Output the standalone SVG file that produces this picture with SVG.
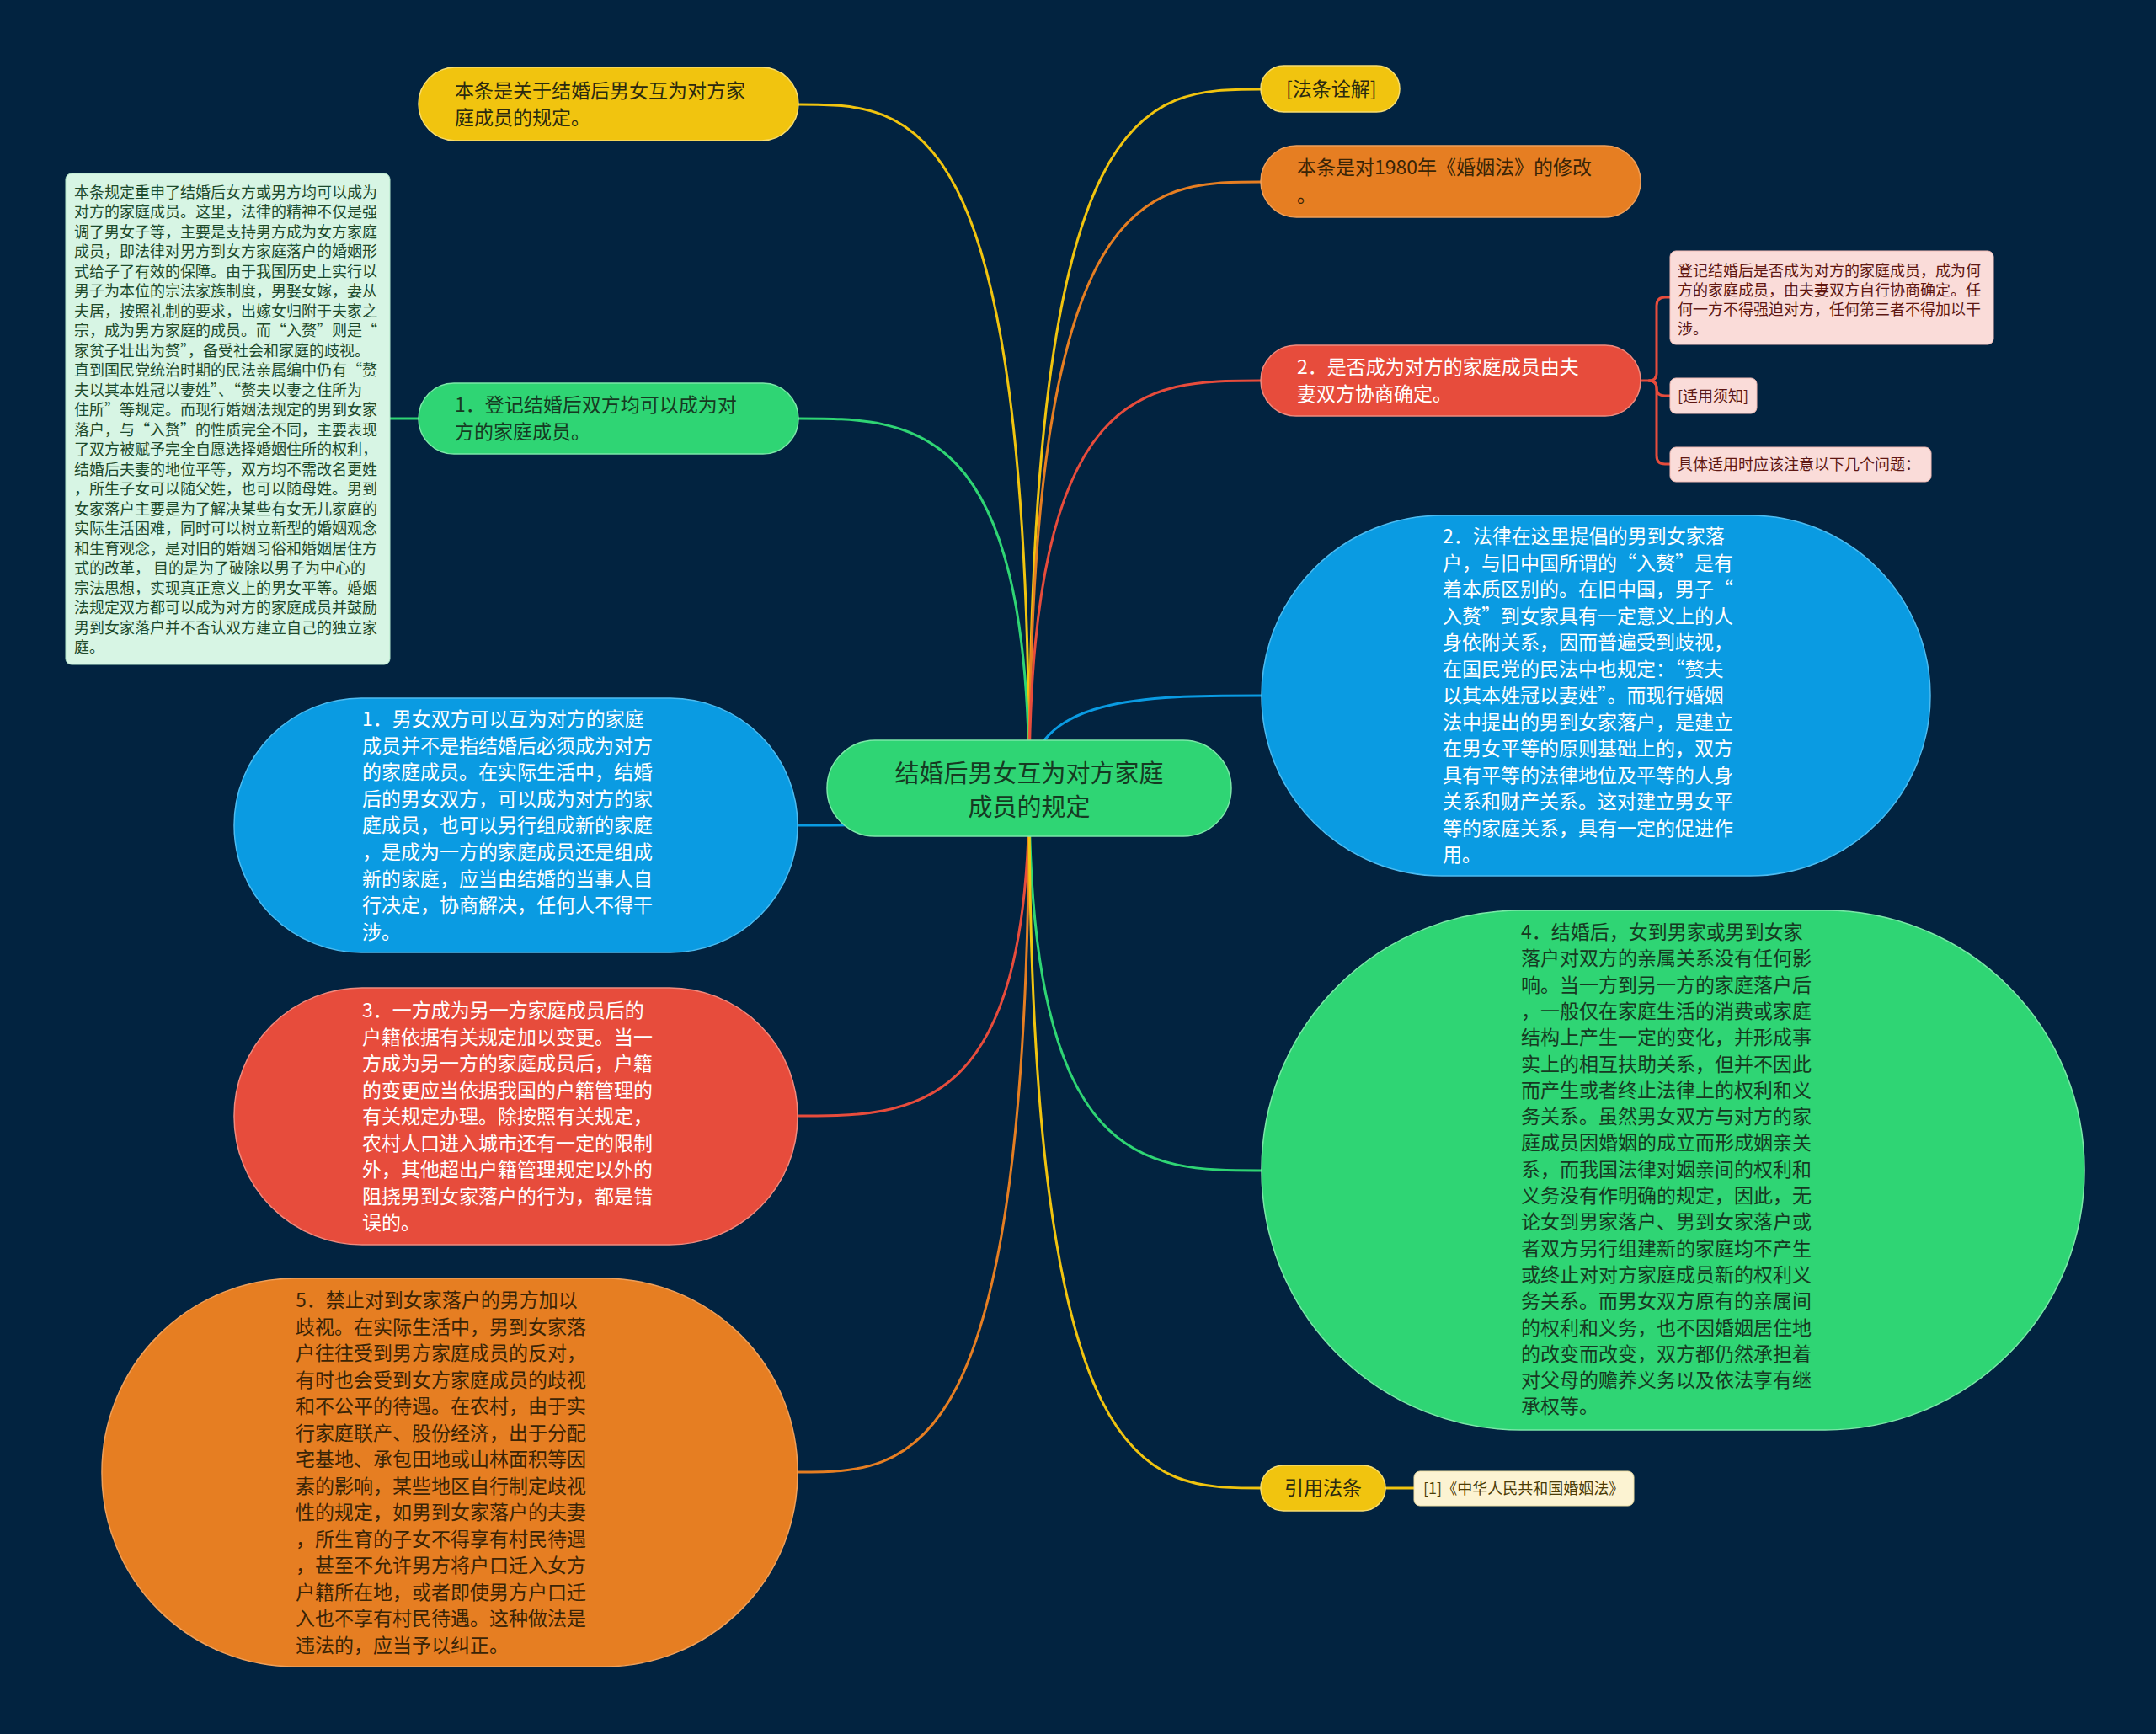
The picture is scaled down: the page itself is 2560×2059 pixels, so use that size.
<svg xmlns="http://www.w3.org/2000/svg" width="2560" height="2059" viewBox="0 0 2560 2059">
<style>
text{font-family:"Noto Sans CJK SC","Noto Sans",sans-serif;}
.t23{font-size:23px;}
.t18{font-size:18px;}
.t31{font-size:29px;}
.dk{fill:#2b2a10;}
.wh{fill:#ffffff;}
.gd{fill:#163a22;}
.od{fill:#3a2406;}
.con{fill:none;stroke-width:3;stroke-linecap:round;}
.y{stroke:#f1c40f;} .o{stroke:#e67e22;} .r{stroke:#e74c3c;} .b{stroke:#0a9be2;} .g{stroke:#2fd574;}
.ny{fill:#f1c40f;stroke:#f7dc6f;stroke-width:1.5;}
.no{fill:#e67e22;stroke:#f0a05a;stroke-width:1.5;}
.nr{fill:#e74c3c;stroke:#f08a7e;stroke-width:1.5;}
.nb{fill:#0a9be2;stroke:#4dbbf0;stroke-width:1.5;}
.ng{fill:#2fd574;stroke:#7be8a8;stroke-width:1.5;}
</style>
<rect x="0" y="0" width="2560" height="2059" fill="#022340"/>

<g id="connectors">
<path class="con y" d="M1222,936 C1222,124 1085,124 948,124"/>
<path class="con g" d="M1222,936 C1222,497 1085,497 948,497"/>
<path class="con b" d="M1222,936 C1222,980 1085,980 947,980"/>
<path class="con r" d="M1222,936 C1222,1325 1085,1325 947,1325"/>
<path class="con o" d="M1222,936 C1222,1748 1085,1748 947,1748"/>
<path class="con y" d="M1222,936 C1222,106 1360,106 1497,106"/>
<path class="con o" d="M1222,936 C1222,216 1360,216 1497,216"/>
<path class="con r" d="M1222,936 C1222,452 1360,452 1497,452"/>
<path class="con b" d="M1222,936 C1222,826 1360,826 1498,826"/>
<path class="con g" d="M1222,936 C1222,1390 1360,1390 1498,1390"/>
<path class="con y" d="M1222,936 C1222,1767 1360,1767 1497,1767"/>
<path class="con g" d="M497,497 L463,497"/>
<path class="con y" d="M1645,1767 L1679,1767"/>
<path class="con r" d="M1948,452 L1958,452 Q1967,452 1967,443 L1967,363 Q1967,353 1977,353 L1983,353"/>
<path class="con r" d="M1958,452 Q1967,452 1967,461 Q1967,470 1977,470 L1983,470"/>
<path class="con r" d="M1958,452 Q1967,452 1967,461 L1967,541 Q1967,551 1977,551 L1983,551"/>
</g>

<g id="center">
<rect x="982" y="879" width="480" height="114" rx="57" class="ng"/>
<text class="t31 gd" text-anchor="middle" x="1222" y="929">结婚后男女互为对方家庭</text>
<text class="t31 gd" text-anchor="middle" x="1222" y="969">成员的规定</text>
</g>

<g id="n-intro">
<rect x="497" y="80" width="451" height="87" rx="43.5" class="ny"/>
<text class="t23 dk"><tspan x="540" y="116">本条是关于结婚后男女互为对方家</tspan><tspan x="540" y="148">庭成员的规定。</tspan></text>
</g>

<g id="n-1reg">
<rect x="497" y="455" width="451" height="84" rx="42" class="ng"/>
<text class="t23 gd"><tspan x="540" y="489">1．登记结婚后双方均可以成为对</tspan><tspan x="540" y="521">方的家庭成员。</tspan></text>
</g>

<g id="note-mint">
<rect x="78" y="206" width="385" height="583" rx="7" fill="#d7f5e4" stroke="#b5e8cb" stroke-width="1"/>
<text class="t18" fill="#1d4a2c">
<tspan x="88" y="234.5">本条规定重申了结婚后女方或男方均可以成为</tspan>
<tspan x="88" y="258">对方的家庭成员。这里，法律的精神不仅是强</tspan>
<tspan x="88" y="281.5">调了男女子等，主要是支持男方成为女方家庭</tspan>
<tspan x="88" y="305">成员，即法律对男方到女方家庭落户的婚姻形</tspan>
<tspan x="88" y="328.5">式给子了有效的保障。由于我国历史上实行以</tspan>
<tspan x="88" y="352">男子为本位的宗法家族制度，男娶女嫁，妻从</tspan>
<tspan x="88" y="375.5">夫居，按照礼制的要求，出嫁女归附于夫家之</tspan>
<tspan x="88" y="399">宗，成为男方家庭的成员。而“入赘”则是“</tspan>
<tspan x="88" y="422.5">家贫子壮出为赘”，备受社会和家庭的歧视。</tspan>
<tspan x="88" y="446">直到国民党统治时期的民法亲属编中仍有“赘</tspan>
<tspan x="88" y="469.5">夫以其本姓冠以妻姓”、“赘夫以妻之住所为</tspan>
<tspan x="88" y="493">住所”等规定。而现行婚姻法规定的男到女家</tspan>
<tspan x="88" y="516.5">落户，与“入赘”的性质完全不同，主要表现</tspan>
<tspan x="88" y="540">了双方被赋予完全自愿选择婚姻住所的权利，</tspan>
<tspan x="88" y="563.5">结婚后夫妻的地位平等，双方均不需改名更姓</tspan>
<tspan x="88" y="587">，所生子女可以随父姓，也可以随母姓。男到</tspan>
<tspan x="88" y="610.5">女家落户主要是为了解决某些有女无儿家庭的</tspan>
<tspan x="88" y="634">实际生活困难，同时可以树立新型的婚姻观念</tspan>
<tspan x="88" y="657.5">和生育观念，是对旧的婚姻习俗和婚姻居住方</tspan>
<tspan x="88" y="681">式的改革， 目的是为了破除以男子为中心的</tspan>
<tspan x="88" y="704.5">宗法思想，实现真正意义上的男女平等。婚姻</tspan>
<tspan x="88" y="728">法规定双方都可以成为对方的家庭成员并鼓励</tspan>
<tspan x="88" y="751.5">男到女家落户并不否认双方建立自己的独立家</tspan>
<tspan x="88" y="775">庭。</tspan>
</text>
</g>

<g id="n-blue-left">
<rect x="278" y="829" width="669" height="302" rx="151" class="nb"/>
<text class="t23 wh">
<tspan x="430" y="862">1．男女双方可以互为对方的家庭</tspan>
<tspan x="430" y="893.6">成员并不是指结婚后必须成为对方</tspan>
<tspan x="430" y="925.2">的家庭成员。在实际生活中，结婚</tspan>
<tspan x="430" y="956.8">后的男女双方，可以成为对方的家</tspan>
<tspan x="430" y="988.4">庭成员，也可以另行组成新的家庭</tspan>
<tspan x="430" y="1020">，是成为一方的家庭成员还是组成</tspan>
<tspan x="430" y="1051.6">新的家庭，应当由结婚的当事人自</tspan>
<tspan x="430" y="1083.2">行决定，协商解决，任何人不得干</tspan>
<tspan x="430" y="1114.8">涉。</tspan>
</text>
</g>

<g id="n-red-left">
<rect x="278" y="1173" width="669" height="305" rx="152" class="nr"/>
<text class="t23 wh">
<tspan x="430" y="1208">3．一方成为另一方家庭成员后的</tspan>
<tspan x="430" y="1239.5">户籍依据有关规定加以变更。当一</tspan>
<tspan x="430" y="1271">方成为另一方的家庭成员后，户籍</tspan>
<tspan x="430" y="1302.5">的变更应当依据我国的户籍管理的</tspan>
<tspan x="430" y="1334">有关规定办理。除按照有关规定，</tspan>
<tspan x="430" y="1365.5">农村人口进入城市还有一定的限制</tspan>
<tspan x="430" y="1397">外，其他超出户籍管理规定以外的</tspan>
<tspan x="430" y="1428.5">阻挠男到女家落户的行为，都是错</tspan>
<tspan x="430" y="1460">误的。</tspan>
</text>
</g>

<g id="n-orange-left">
<rect x="121" y="1518" width="826" height="461" rx="230" class="no"/>
<text class="t23 od">
<tspan x="351" y="1552">5．禁止对到女家落户的男方加以</tspan>
<tspan x="351" y="1583.5">歧视。在实际生活中，男到女家落</tspan>
<tspan x="351" y="1615">户往往受到男方家庭成员的反对，</tspan>
<tspan x="351" y="1646.5">有时也会受到女方家庭成员的歧视</tspan>
<tspan x="351" y="1678">和不公平的待遇。在农村，由于实</tspan>
<tspan x="351" y="1709.5">行家庭联产、股份经济，出于分配</tspan>
<tspan x="351" y="1741">宅基地、承包田地或山林面积等因</tspan>
<tspan x="351" y="1772.5">素的影响，某些地区自行制定歧视</tspan>
<tspan x="351" y="1804">性的规定，如男到女家落户的夫妻</tspan>
<tspan x="351" y="1835.5">，所生育的子女不得享有村民待遇</tspan>
<tspan x="351" y="1867">，甚至不允许男方将户口迁入女方</tspan>
<tspan x="351" y="1898.5">户籍所在地，或者即使男方户口迁</tspan>
<tspan x="351" y="1930">入也不享有村民待遇。这种做法是</tspan>
<tspan x="351" y="1961.5">违法的，应当予以纠正。</tspan>
</text>
</g>

<g id="n-fatiao">
<rect x="1497" y="78" width="165" height="55" rx="27.5" class="ny"/>
<text class="t23 dk" x="1527" y="114">[法条诠解]</text>
</g>

<g id="n-1980">
<rect x="1497" y="173" width="451" height="85" rx="42.5" class="no"/>
<text class="t23 od"><tspan x="1540" y="207">本条是对1980年《婚姻法》的修改</tspan><tspan x="1540" y="240">。</tspan></text>
</g>

<g id="n-red2">
<rect x="1497" y="410" width="451" height="84" rx="42" class="nr"/>
<text class="t23 wh"><tspan x="1540" y="444">2．是否成为对方的家庭成员由夫</tspan><tspan x="1540" y="476">妻双方协商确定。</tspan></text>
</g>

<g id="note-pink1">
<rect x="1983" y="298" width="384" height="111" rx="7" fill="#fadcd9" stroke="#f3bcb6" stroke-width="1"/>
<text class="t18" fill="#5e1712">
<tspan x="1992" y="327.5">登记结婚后是否成为对方的家庭成员，成为何</tspan>
<tspan x="1992" y="350.5">方的家庭成员，由夫妻双方自行协商确定。任</tspan>
<tspan x="1992" y="373.5">何一方不得强迫对方，任何第三者不得加以干</tspan>
<tspan x="1992" y="396.5">涉。</tspan>
</text>
</g>

<g id="note-pink2">
<rect x="1983" y="449" width="103" height="42" rx="7" fill="#fadcd9" stroke="#f3bcb6" stroke-width="1"/>
<text class="t18" fill="#5e1712" x="1992" y="476.5">[适用须知]</text>
</g>

<g id="note-pink3">
<rect x="1983" y="531" width="310" height="41" rx="7" fill="#fadcd9" stroke="#f3bcb6" stroke-width="1"/>
<text class="t18" fill="#5e1712" x="1992" y="558">具体适用时应该注意以下几个问题：</text>
</g>

<g id="n-blue-right">
<rect x="1498" y="612" width="794" height="428" rx="214" class="nb"/>
<text class="t23 wh">
<tspan x="1713" y="645">2．法律在这里提倡的男到女家落</tspan>
<tspan x="1713" y="676.5">户，与旧中国所谓的“入赘”是有</tspan>
<tspan x="1713" y="708">着本质区别的。在旧中国，男子“</tspan>
<tspan x="1713" y="739.5">入赘”到女家具有一定意义上的人</tspan>
<tspan x="1713" y="771">身依附关系，因而普遍受到歧视，</tspan>
<tspan x="1713" y="802.5">在国民党的民法中也规定：“赘夫</tspan>
<tspan x="1713" y="834">以其本姓冠以妻姓”。而现行婚姻</tspan>
<tspan x="1713" y="865.5">法中提出的男到女家落户，是建立</tspan>
<tspan x="1713" y="897">在男女平等的原则基础上的，双方</tspan>
<tspan x="1713" y="928.5">具有平等的法律地位及平等的人身</tspan>
<tspan x="1713" y="960">关系和财产关系。这对建立男女平</tspan>
<tspan x="1713" y="991.5">等的家庭关系，具有一定的促进作</tspan>
<tspan x="1713" y="1023">用。</tspan>
</text>
</g>

<g id="n-green-right">
<rect x="1498" y="1081" width="977" height="617" rx="308" class="ng"/>
<text class="t23 gd">
<tspan x="1806" y="1115">4．结婚后，女到男家或男到女家</tspan>
<tspan x="1806" y="1146.3">落户对双方的亲属关系没有任何影</tspan>
<tspan x="1806" y="1177.6">响。当一方到另一方的家庭落户后</tspan>
<tspan x="1806" y="1208.9">，一般仅在家庭生活的消费或家庭</tspan>
<tspan x="1806" y="1240.2">结构上产生一定的变化，并形成事</tspan>
<tspan x="1806" y="1271.5">实上的相互扶助关系，但并不因此</tspan>
<tspan x="1806" y="1302.8">而产生或者终止法律上的权利和义</tspan>
<tspan x="1806" y="1334.1">务关系。虽然男女双方与对方的家</tspan>
<tspan x="1806" y="1365.4">庭成员因婚姻的成立而形成姻亲关</tspan>
<tspan x="1806" y="1396.7">系，而我国法律对姻亲间的权利和</tspan>
<tspan x="1806" y="1428">义务没有作明确的规定，因此，无</tspan>
<tspan x="1806" y="1459.3">论女到男家落户、男到女家落户或</tspan>
<tspan x="1806" y="1490.6">者双方另行组建新的家庭均不产生</tspan>
<tspan x="1806" y="1521.9">或终止对对方家庭成员新的权利义</tspan>
<tspan x="1806" y="1553.2">务关系。而男女双方原有的亲属间</tspan>
<tspan x="1806" y="1584.5">的权利和义务，也不因婚姻居住地</tspan>
<tspan x="1806" y="1615.8">的改变而改变，双方都仍然承担着</tspan>
<tspan x="1806" y="1647.1">对父母的赡养义务以及依法享有继</tspan>
<tspan x="1806" y="1678.4">承权等。</tspan>
</text>
</g>

<g id="n-yinyong">
<rect x="1497" y="1740" width="148" height="54" rx="27" class="ny"/>
<text class="t23 dk" x="1571" y="1775" text-anchor="middle">引用法条</text>
</g>

<g id="note-law">
<rect x="1679" y="1747" width="261" height="41" rx="7" fill="#fcf3d2" stroke="#efe0a6" stroke-width="1"/>
<text class="t18" fill="#4a3c08" x="1690" y="1773.5">[1]《中华人民共和国婚姻法》</text>
</g>
</svg>
